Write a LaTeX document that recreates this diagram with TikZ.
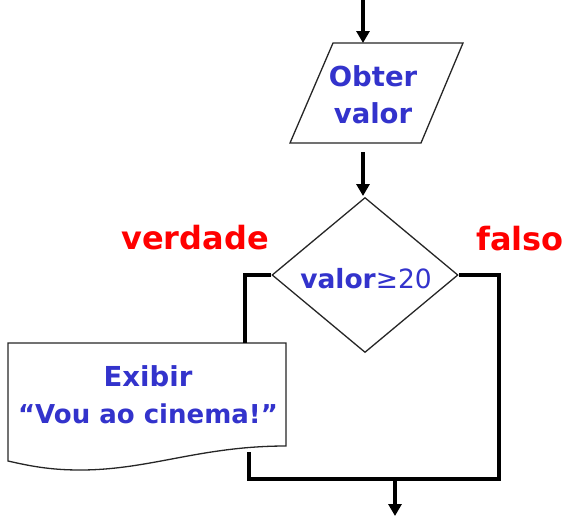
\documentclass[tikz,border=0pt]{standalone}
\usepackage{fontspec}
\setmainfont{DejaVu Sans}
\usetikzlibrary{arrows.meta,shapes.geometric}
\definecolor{txtblue}{RGB}{51,51,204}
\definecolor{txtred}{RGB}{255,0,0}
\begin{document}
\begin{tikzpicture}[x=1pt,y=-1pt,
  conn/.style={line width=3.2pt,line join=miter},
  arr/.style={conn,line width=3.6pt,-{Triangle[length=12pt,width=13pt]}},
  shapeline/.style={draw=black!85,line width=1.3pt,fill=white},
  bluetxt/.style={text=txtblue,font=\bfseries\fontsize{27.5}{37}\selectfont,align=center,inner sep=0pt},
  redtxt/.style={text=txtred,font=\bfseries\fontsize{32}{36}\selectfont,inner sep=0pt}]
\useasboundingbox (0,0) rectangle (573,523);
% input parallelogram
\coordinate (start) at (363,0);
\coordinate (pA) at (333,43);
\coordinate (pB) at (463,43);
\coordinate (pC) at (421,143);
\coordinate (pD) at (290,143);
\draw[shapeline] (pA) -- (pB) -- (pC) -- (pD) -- cycle;
\coordinate (ptop) at (363,43);
\coordinate (pbot) at (363,152);
\node[bluetxt] (obter) at (373,95) {Obter\\ valor};
% decision
\node[diamond,shapeline,minimum width=186pt,minimum height=155pt,inner sep=0pt] (dec) at (365,275) {};
\coordinate (dectop) at (363,196);
\node[text=txtblue,font=\fontsize{26.5}{30}\selectfont,inner sep=0pt] (cond) at (366,279) {\bfseries valor\mdseries ≥20};
% document
\draw[shapeline] (8,343) -- (286,343) -- (286,446)
  .. controls (200,446) and (150,470) .. (80,470)
  .. controls (50,470) and (30,466) .. (8,461) -- cycle;
\node[bluetxt] (exibir) at (148,395) {Exibir\\{\fontsize{26}{37}\selectfont “Vou ao cinema!”}};
\coordinate (docin) at (245,343);
\coordinate (docout) at (249,452);
\coordinate (rjoin) at (499,479);
\coordinate (merge) at (395,479);
\coordinate (finish) at (395,516);
% connectors
\draw[arr] (start) -- (ptop);
\draw[arr] (pbot) -- (dectop);
\draw[conn] (dec.west) -| (docin);
\draw[conn] (docout) |- (rjoin) |- (dec.east);
\draw[arr] (merge) -- (finish);
% labels
\node[redtxt] (verd) at (195,238) {verdade};
\node[redtxt] (fals) at (520,239) {falso};
\end{tikzpicture}
\end{document}
